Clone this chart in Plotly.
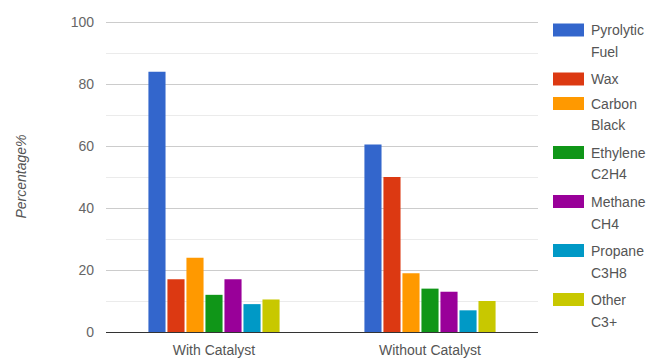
import plotly.graph_objects as go

# Product yield (%) of tyre pyrolysis, with and without a catalyst
categories = ["With Catalyst", "Without Catalyst"]
products = ["Pyrolytic Fuel", "Wax", "Carbon Black", "Ethylene C2H4",
            "Methane CH4", "Propane C3H8", "Other C3+"]
with_catalyst = [84, 17, 24, 12, 17, 9, 10.5]
without_catalyst = [60.5, 50, 19, 14, 13, 7, 10]
colors = ["#3366cc", "#dc3912", "#ff9900", "#109618",
          "#990099", "#0099c6", "#c8c800"]
y_ticks = [0, 20, 40, 60, 80, 100]

W, H = 652, 360
M = dict(l=106, r=114, t=21, b=28)
FONT = "Liberation Sans, Arial, sans-serif"
TEXT = "#555555"


def paper_x(px):
    return (px - M["l"]) / (W - M["l"] - M["r"])


def paper_y(py):
    return (H - M["b"] - py) / (H - M["t"] - M["b"])


fig = go.Figure()
for name, a, b, c in zip(products, with_catalyst, without_catalyst, colors):
    fig.add_trace(go.Bar(name=name, x=categories, y=[a, b],
                         marker=dict(color=c, line=dict(width=0)),
                         showlegend=False))

# Legend drawn at the right: colour swatch plus wrapped label
shapes, annots = [], []
y_c = 30
for name, c in zip(products, colors):
    lines = name.split(" ", 1)
    shapes.append(dict(type="rect", xref="paper", yref="paper",
                       x0=paper_x(553), x1=paper_x(584),
                       y0=paper_y(y_c + 6.5), y1=paper_y(y_c - 6.5),
                       fillcolor=c, line=dict(width=0), layer="above"))
    for k, ln in enumerate(lines):
        annots.append(dict(xref="paper", yref="paper", x=paper_x(589),
                           y=paper_y(y_c + k * 22), text=ln, showarrow=False,
                           xanchor="left", yanchor="middle",
                           font=dict(family=FONT, size=14, color=TEXT)))
    y_c += 24.5 * len(lines)

fig.update_layout(
    width=W, height=H, margin=M,
    paper_bgcolor="white", plot_bgcolor="white",
    barmode="group", bargap=0.384, bargroupgap=0.1,
    font=dict(family=FONT, size=14, color=TEXT),
    shapes=shapes, annotations=annots,
)
fig.update_xaxes(showgrid=False, showline=True, linecolor="#333333",
                 linewidth=1, ticks="", ticklabelstandoff=5, automargin=False,
                 tickfont=dict(family=FONT, size=14, color=TEXT))
fig.update_yaxes(range=[0, 100.4], tickvals=y_ticks, showgrid=True,
                 gridcolor="#cccccc", gridwidth=1, zeroline=False,
                 showline=False, ticks="", ticklabelstandoff=11, automargin=False,
                 tickfont=dict(family=FONT, size=14, color="#666666"),
                 minor=dict(tickvals=[10, 30, 50, 70, 90], showgrid=True,
                            gridcolor="#ebebeb", gridwidth=1),
                 title=dict(text="<i>Percentage%</i>", standoff=40,
                            font=dict(family=FONT, size=14, color=TEXT)))

fig.write_html("out.html")
